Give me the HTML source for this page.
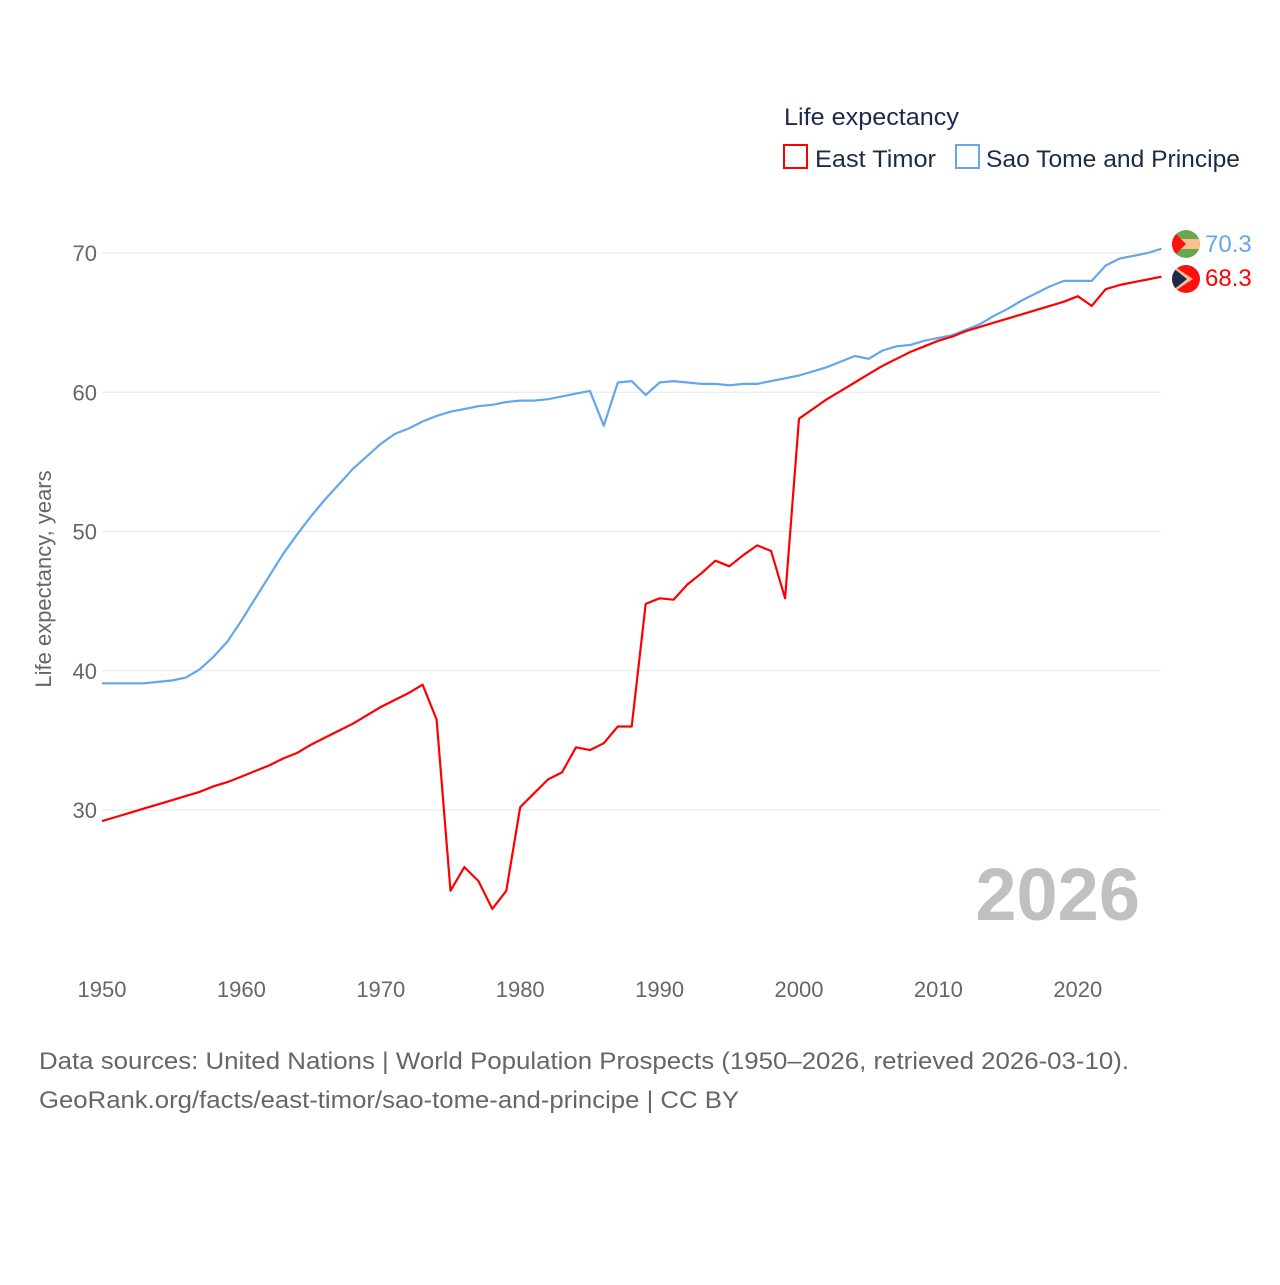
<!DOCTYPE html>
<html><head><meta charset="utf-8"><style>
html,body{margin:0;padding:0;background:#fff;}
body{width:1280px;height:1280px;overflow:hidden;font-family:"Liberation Sans",sans-serif;}
</style></head><body>
<svg id="chart" width="1280" height="1280" xmlns="http://www.w3.org/2000/svg" font-family="Liberation Sans, sans-serif">
<text x="784" y="125" font-size="24" fill="#1d2b4a" textLength="175" lengthAdjust="spacingAndGlyphs">Life expectancy</text>
<g>
<rect x="784" y="145" width="23" height="23" fill="none" stroke="#ff0000" stroke-width="2"/>
<text x="815" y="167" font-size="24" fill="#1d2b4a" textLength="121" lengthAdjust="spacingAndGlyphs">East Timor</text></g>
<g>
<rect x="956" y="145" width="23" height="23" fill="none" stroke="#63a7ea" stroke-width="2"/>
<text x="986" y="167" font-size="24" fill="#1d2b4a" textLength="254" lengthAdjust="spacingAndGlyphs">Sao Tome and Principe</text></g>
<g id="grid"></g><g id="xt"></g><g id="lines"></g>
<text transform="translate(51,579) rotate(-90)" text-anchor="middle" font-size="22" fill="#666">Life expectancy, years</text>
<text x="1140" y="920" text-anchor="end" font-size="74" font-weight="bold" fill="#c0c0c0">2026</text>
<text x="39" y="1069" font-size="24" fill="#666" textLength="1090" lengthAdjust="spacingAndGlyphs">Data sources: United Nations | World Population Prospects (1950–2026, retrieved 2026-03-10).</text>
<text x="39" y="1108" font-size="24" fill="#666" textLength="700" lengthAdjust="spacingAndGlyphs">GeoRank.org/facts/east-timor/sao-tome-and-principe | CC BY</text>
<g><clipPath id="c1"><circle cx="1186" cy="244" r="14"/></clipPath><g clip-path="url(#c1)"><rect x="1172" y="230" width="28" height="28" fill="#6aa84f"/><rect x="1172" y="239" width="28" height="10" fill="#f9c08f"/><polygon points="1172,230 1186,244 1172,258" fill="#ff1010"/></g></g>
<g><clipPath id="c2"><circle cx="1186" cy="279" r="14"/></clipPath><g clip-path="url(#c2)"><rect x="1172" y="265" width="28" height="28" fill="#ff1010"/><polygon points="1172,265 1193,279 1172,293" fill="#f9c08f"/><polygon points="1172,267 1187,279 1172,291" fill="#1d2b4a"/></g></g>
<text x="1205" y="252" font-size="24" fill="#63a7ea">70.3</text>
<text x="1205" y="286" font-size="24" fill="#ff0000">68.3</text>
</svg>
<script>
const years=[];for(let y=1950;y<=2026;y++)years.push(y);
const eastTimor=[29.2,29.5,29.8,30.1,30.4,30.7,31.0,31.3,31.7,32.0,32.4,32.8,33.2,33.7,34.1,34.7,35.2,35.7,36.2,36.8,37.4,37.9,38.4,39.0,36.5,24.2,25.9,24.9,22.9,24.2,30.2,31.2,32.2,32.7,34.5,34.3,34.8,36.0,36.0,44.8,45.2,45.1,46.2,47.0,47.9,47.5,48.3,49.0,48.6,45.2,58.1,58.8,59.5,60.1,60.7,61.3,61.9,62.4,62.9,63.3,63.7,64.0,64.4,64.7,65.0,65.3,65.6,65.9,66.2,66.5,66.9,66.2,67.4,67.7,67.9,68.1,68.3];
const saoTome=[39.1,39.1,39.1,39.1,39.2,39.3,39.5,40.1,41.0,42.1,43.6,45.2,46.8,48.4,49.8,51.1,52.3,53.4,54.5,55.4,56.3,57.0,57.4,57.9,58.3,58.6,58.8,59.0,59.1,59.3,59.4,59.4,59.5,59.7,59.9,60.1,57.6,60.7,60.8,59.8,60.7,60.8,60.7,60.6,60.6,60.5,60.6,60.6,60.8,61.0,61.2,61.5,61.8,62.2,62.6,62.4,63.0,63.3,63.4,63.7,63.9,64.1,64.5,64.9,65.5,66.0,66.6,67.1,67.6,68.0,68.0,68.0,69.1,69.6,69.8,70.0,70.3];
const yTicks=[30,40,50,60,70];
const xTicks=[1950,1960,1970,1980,1990,2000,2010,2020];
const X=y=>102+(y-1950)*13.94;
const Y=v=>253+(70-v)*13.925;
const NS='http://www.w3.org/2000/svg';
const g=document.getElementById('grid'),xt=document.getElementById('xt'),L=document.getElementById('lines');
yTicks.forEach(t=>{
 const l=document.createElementNS(NS,'line');
 
 
 l.setAttribute('x1',102);l.setAttribute('x2',1161);l.setAttribute('y1',Y(t));l.setAttribute('y2',Y(t));
 l.setAttribute('stroke','#e6e6e6');l.setAttribute('stroke-width','1');g.appendChild(l);
 const tx=document.createElementNS(NS,'text');
 
 
 tx.setAttribute('x',97);tx.setAttribute('y',Y(t)+8);tx.setAttribute('text-anchor','end');
 tx.setAttribute('font-size','22');tx.setAttribute('fill','#666');tx.textContent=t;g.appendChild(tx);
});
xTicks.forEach(t=>{
 const tx=document.createElementNS(NS,'text');
 
 
 tx.setAttribute('x',X(t));tx.setAttribute('y',997);tx.setAttribute('text-anchor','middle');
 tx.setAttribute('font-size','22');tx.setAttribute('fill','#666');tx.textContent=t;xt.appendChild(tx);
});
function line(vals,color,name){
 const p=document.createElementNS(NS,'polyline');
 
 
 p.setAttribute('points',vals.map((v,i)=>X(years[i]).toFixed(1)+','+Y(v).toFixed(1)).join(' '));
 p.setAttribute('fill','none');p.setAttribute('stroke',color);p.setAttribute('stroke-width','2.2');
 p.setAttribute('stroke-linejoin','round');L.appendChild(p);
}
line(saoTome,'#63a7ea','line-sao-tome');
line(eastTimor,'#ff0000','line-east-timor');
</script>
</body></html>
